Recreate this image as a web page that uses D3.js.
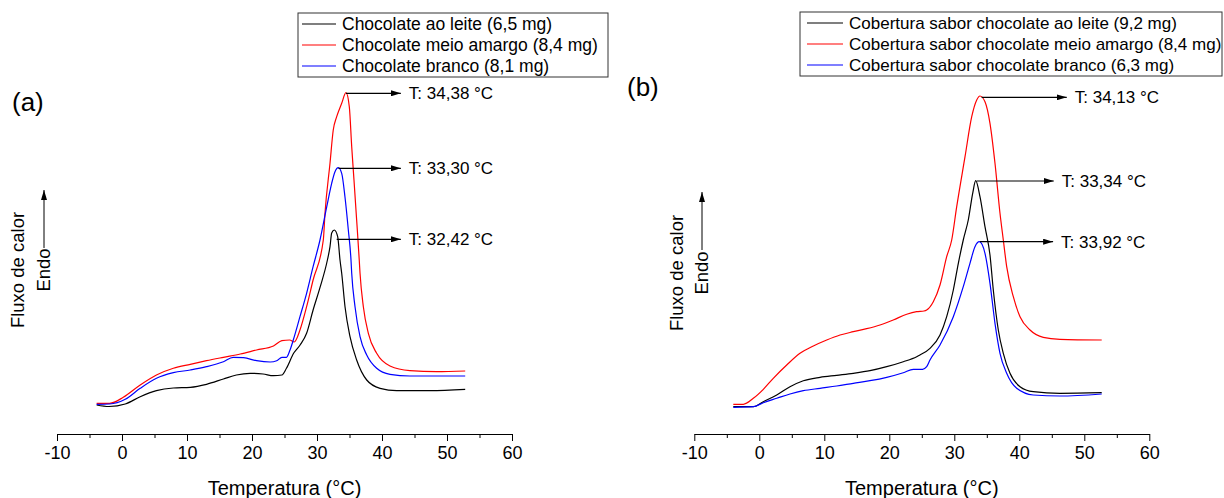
<!DOCTYPE html>
<html><head><meta charset="utf-8">
<script src="https://cdn.jsdelivr.net/npm/d3@7"></script>
<style>body{margin:0;background:#fff}svg{display:block}text{font-family:"Liberation Sans",Arial,sans-serif}</style>
</head><body><svg id="c" width="1224" height="498"></svg>
<script>
// Temperature ticks (°C)
const majorTicks = [-10, 0, 10, 20, 30, 40, 50, 60];
const minorTicks = [-5, 5, 15, 25, 35, 45, 55];

// Panel (a) — [temperature °C, heat flow (a.u., endo up)]
const aBlack = [[-3.9,2.9],[-2,2.75],[0.5,3.0],[2.8,3.73],[5.3,4.33],[7.9,4.6],[10.5,4.67],[13,4.97],[15.6,5.5],[17.6,5.9],[19.7,6.07],[21.7,6.0],[23.3,5.83],[24.6,5.9],[25.3,6.57],[26.4,8.07],[27.4,8.9],[28.4,10.07],[29.4,12.4],[30.5,14.73],[31.6,17.4],[32.0,18.73],[32.26,20.1],[32.66,20.4],[33.18,19.73],[33.54,17.4],[33.8,16.07],[34.31,12.73],[35.08,9.73],[36.1,7.4],[37.65,5.4],[39.7,4.57],[42.26,4.33],[47.4,4.33],[52.8,4.47]];
const aRed = [[-3.9,3.07],[-1.9,3.07],[0.2,3.67],[2.8,4.9],[5.3,5.9],[7.9,6.57],[10.5,6.97],[13,7.33],[15.6,7.67],[18.2,8.0],[20.7,8.4],[23.3,8.8],[24.6,9.33],[25.8,9.4],[26.5,9.2],[27.38,10.4],[28.4,12.73],[29.4,15.4],[30.97,19.4],[31.23,22.07],[32.0,27.07],[32.5,30.4],[33.03,31.73],[33.8,33.07],[34.46,34.13],[34.97,32.73],[35.34,28.73],[35.69,25.4],[36.1,21.4],[36.5,17.4],[36.62,16.07],[37.13,12.73],[37.9,10.07],[39.18,8.07],[41.23,6.8],[44.3,6.33],[48.4,6.23],[52.8,6.3]];
const aBlue = [[-3.9,2.97],[-1.9,3.0],[0.5,3.47],[2.8,4.57],[5.3,5.57],[7.9,6.13],[10.5,6.4],[13,6.73],[15.6,7.23],[17.1,7.67],[18.7,7.63],[20.7,7.33],[22.8,7.2],[23.8,7.33],[24.6,7.67],[25.3,7.67],[25.85,8.4],[26.35,9.4],[27.38,11.73],[28.4,14.07],[29.4,16.73],[30.46,19.4],[31.5,22.73],[32.26,25.07],[32.77,26.23],[33.28,26.63],[33.8,26.07],[34.3,23.73],[34.82,20.4],[35.23,17.4],[35.34,16.07],[35.85,12.73],[36.62,9.73],[37.65,7.9],[39.18,6.57],[41.23,5.97],[44.3,5.8],[52.8,5.8]];

// Panel (b)
const bBlack = [[-4,2.73],[-0.92,2.73],[0.62,3.23],[2.68,3.9],[4.72,4.73],[6.77,5.33],[9.34,5.67],[11.9,5.87],[14.46,6.07],[17.03,6.33],[19.6,6.73],[22.15,7.23],[24.22,7.73],[24.72,7.9],[26.26,8.57],[27.8,9.9],[28.83,11.73],[29.85,14.4],[30.62,17.07],[31.38,19.4],[32.15,21.4],[32.83,24.07],[33.29,25.33],[33.95,23.73],[34.72,20.73],[35.49,17.9],[36.0,14.4],[36.77,10.4],[37.54,8.07],[38.57,6.07],[40.11,4.73],[42.15,4.23],[46.26,4.07],[52.68,4.13]];
const bRed = [[-4,2.97],[-2.46,2.97],[-0.92,3.57],[0.62,4.47],[2.15,5.57],[4.22,6.9],[6.26,8.07],[8.31,8.8],[10.37,9.4],[12.42,9.9],[14.46,10.23],[16.52,10.53],[18.57,10.9],[20.6,11.4],[22.68,11.97],[24.2,12.23],[25.34,12.3],[25.75,12.4],[26.77,13.23],[27.8,14.9],[28.83,17.73],[29.6,19.4],[30.37,22.73],[31.65,27.73],[32.68,31.73],[33.45,33.4],[33.95,33.8],[34.72,33.23],[35.49,31.07],[36.26,27.07],[37.03,22.07],[37.54,19.4],[38.06,16.73],[39.08,13.73],[40.11,11.73],[41.65,10.4],[43.69,9.67],[46.26,9.47],[52.68,9.4]];
const bBlue = [[-4,2.67],[-0.92,2.73],[0.62,3.13],[2.68,3.57],[4.72,4.0],[6.77,4.33],[9.34,4.57],[11.9,4.8],[14.46,5.07],[17.03,5.33],[19.6,5.67],[22.15,6.13],[23.7,6.47],[25.12,6.47],[25.75,6.73],[26.26,7.4],[27.8,8.9],[29.85,11.73],[31.38,14.73],[32.41,17.07],[33.18,18.73],[33.85,19.23],[34.72,18.07],[35.49,15.07],[36.26,11.07],[37.03,8.07],[38.06,6.07],[39.6,4.57],[42.15,3.9],[46.26,3.8],[52.68,4.0]];

const aLabels = ["Chocolate ao leite (6,5 mg)", "Chocolate meio amargo (8,4 mg)", "Chocolate branco (8,1 mg)"];
const bLabels = ["Cobertura sabor chocolate ao leite (9,2 mg)", "Cobertura sabor chocolate meio amargo (8,4 mg)", "Cobertura sabor chocolate branco (6,3 mg)"];
const colors = ["#000000", "#ff0000", "#0000ff"];

// Peak annotations: [start T, heat flow, end T, label]
const aPeaks = [[34.46,34.07,42.9,"T: 34,38 °C"],[33.3,26.57,42.9,"T: 33,30 °C"],[33.03,19.47,42.9,"T: 32,42 °C"]];
const bPeaks = [[34.2,33.67,47.3,"T: 34,13 °C"],[33.45,25.3,45.3,"T: 33,34 °C"],[33.95,19.23,45.2,"T: 33,92 °C"]];

const svg = d3.select("#c");
const defs = svg.append("defs");
defs.append("marker").attr("id","arr").attr("viewBox","0 0 10 6").attr("refX",10).attr("refY",3)
  .attr("markerWidth",10).attr("markerHeight",6).attr("markerUnits","userSpaceOnUse").attr("orient","auto")
  .append("path").attr("d","M0,0L10,3L0,6Z").attr("fill","#000");

const y = d3.scaleLinear().domain([0, 40]).range([434, 34]);

function panel(cfg) {
  const x = d3.scaleLinear().domain([-10, 60]).range(cfg.xr);
  const g = svg.append("g");
  g.append("g").attr("transform","translate(0,434)")
    .call(d3.axisBottom(x).tickValues(minorTicks).tickSize(4).tickSizeOuter(0).tickFormat(""))
    .call(s => s.select(".domain").attr("stroke","#000"));
  const ax = g.append("g").attr("transform","translate(0,434)")
    .call(d3.axisBottom(x).tickValues(majorTicks).tickSize(7).tickSizeOuter(0).tickPadding(5).tickFormat(d => d));
  ax.selectAll("text").attr("font-size",18).attr("fill","#000").style("font-family","'Liberation Sans',Arial,sans-serif");
  ax.selectAll("line,path").attr("stroke","#000");
  g.append("text").attr("x",(cfg.xr[0]+cfg.xr[1])/2).attr("y",495).attr("text-anchor","middle")
    .attr("font-size",20).text("Temperatura (°C)");
  const line = d3.line().x(d => x(d[0])).y(d => y(d[1])).curve(d3.curveMonotoneX);
  cfg.series.forEach((s,i) => {
    g.append("path").attr("d", line(s)).attr("fill","none").attr("stroke",colors[i]).attr("stroke-width",1.2);
  });
  cfg.peaks.forEach(p => {
    g.append("line").attr("x1",x(p[0])).attr("x2",x(p[2])).attr("y1",y(p[1])).attr("y2",y(p[1]))
      .attr("stroke","#000").attr("stroke-width",1.2).attr("marker-end","url(#arr)");
    g.append("text").attr("x",x(p[2])+8).attr("y",y(p[1])+6).attr("font-size",17).text(p[3]);
  });
  const L = cfg.legend;
  g.append("rect").attr("x",L.x).attr("y",L.y).attr("width",L.w).attr("height",64)
    .attr("fill","#fff").attr("stroke","#333").attr("stroke-width",1);
  cfg.labels.forEach((t,i) => {
    const yy = L.y + 11 + i*21;
    g.append("line").attr("x1",L.x+L.l0).attr("x2",L.x+L.l1).attr("y1",yy).attr("y2",yy).attr("stroke",colors[i]).attr("stroke-width",1.2);
    g.append("text").attr("x",L.x+L.t).attr("y",yy+6).attr("font-size",L.fs).text(t);
  });
  g.append("text").attr("x",cfg.tag[0]).attr("y",cfg.tag[1]).attr("font-size",26).text(cfg.tagText);
  g.append("text").attr("transform",`translate(${cfg.yl[0]},${cfg.yl[1]}) rotate(-90)`).attr("text-anchor","middle")
    .attr("font-size",18.5).text("Fluxo de calor");
  g.append("text").attr("transform",`translate(${cfg.yl[2]},${cfg.yl[3]}) rotate(-90)`).attr("text-anchor","middle")
    .attr("font-size",18.5).text("Endo");
  g.append("line").attr("x1",cfg.yl[4]).attr("x2",cfg.yl[4]).attr("y1",cfg.yl[5]).attr("y2",cfg.yl[6])
    .attr("stroke","#000").attr("stroke-width",1).attr("marker-end","url(#arr)");
}

panel({xr:[57,512], series:[aBlack,aRed,aBlue], peaks:aPeaks, labels:aLabels,
  legend:{x:298,y:13,w:310,l0:4,l1:38,t:44,fs:17.5}, tag:[12,111], tagText:"(a)", yl:[24,270,50,270,44,248,190]});
panel({xr:[694.3,1149.3], series:[bBlack,bRed,bBlue], peaks:bPeaks, labels:bLabels,
  legend:{x:800,y:12,w:422,l0:7,l1:43,t:49,fs:17}, tag:[627,96], tagText:"(b)", yl:[683,273,708,273,702,250,192]});
</script></body></html>
